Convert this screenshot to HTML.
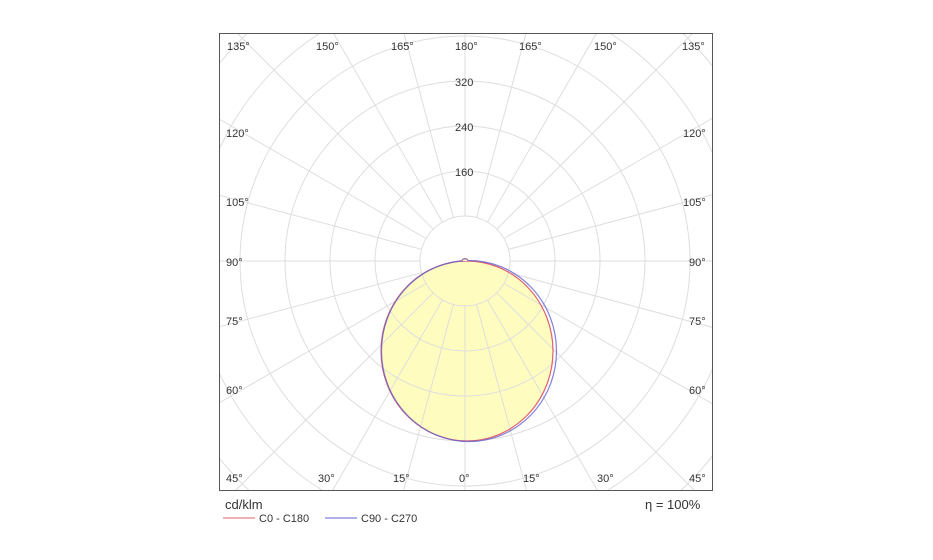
<!DOCTYPE html>
<html><head><style>html,body{margin:0;background:#fff;width:933px;height:560px;overflow:hidden}svg{display:block}</style></head><body>
<svg width="933" height="560" xmlns="http://www.w3.org/2000/svg" font-family="Liberation Sans, sans-serif">
<defs><clipPath id="c"><rect x="220" y="34" width="492" height="456"/></clipPath></defs>
<g clip-path="url(#c)">
<ellipse cx="467" cy="351" rx="86" ry="90" fill="#fefdbf"/>
<g stroke="#dedede" stroke-width="1" fill="none">
<circle cx="465" cy="261" r="45"/><circle cx="465" cy="261" r="90"/><circle cx="465" cy="261" r="135"/><circle cx="465" cy="261" r="180"/><circle cx="465" cy="261" r="225"/><circle cx="465" cy="261" r="270"/><circle cx="465" cy="261" r="315"/>
</g>
<g stroke="#dedede" stroke-width="1" id="spokes"></g>
<ellipse cx="467" cy="351" rx="86" ry="90" fill="none" stroke="#e06070" stroke-width="1.2"/>
<ellipse cx="469" cy="351" rx="87.5" ry="90.5" fill="none" stroke="#6060d0" stroke-width="1.2" opacity="0.8"/>
<path d="M462,261 C462,258 468,258 468,261" fill="#fefdbf" stroke="#9060a0" stroke-width="1.2"/>
</g>
<rect x="219.5" y="33.5" width="493" height="457" fill="none" stroke="#555" stroke-width="1"/>
<g font-size="11" fill="#333">
<text x="227" y="50">135°</text><text x="316" y="50">150°</text><text x="391" y="50">165°</text><text x="455" y="50">180°</text><text x="519" y="50">165°</text><text x="594" y="50">150°</text><text x="682" y="50">135°</text>
<text x="455" y="86">320</text><text x="455" y="131">240</text><text x="455" y="176">160</text>
<text x="226" y="137">120°</text><text x="683" y="137">120°</text>
<text x="226" y="206">105°</text><text x="683" y="206">105°</text>
<text x="226" y="266">90°</text><text x="689" y="266">90°</text>
<text x="226" y="325">75°</text><text x="689" y="325">75°</text>
<text x="226" y="394">60°</text><text x="689" y="394">60°</text>
<text x="226" y="482">45°</text><text x="318" y="482">30°</text><text x="393" y="482">15°</text><text x="459" y="482">0°</text><text x="523" y="482">15°</text><text x="597" y="482">30°</text><text x="689" y="482">45°</text>
</g>
<text x="225" y="509" font-size="13" fill="#333">cd/klm</text>
<text x="645" y="509" font-size="13" fill="#333">η = 100%</text>
<line x1="223" y1="518" x2="255" y2="518" stroke="#e06070"/>
<text x="259" y="522" font-size="11" fill="#333">C0 - C180</text>
<line x1="325" y1="518" x2="357" y2="518" stroke="#6060d0"/>
<text x="361" y="522" font-size="11" fill="#333">C90 - C270</text>
<script>
var g=document.getElementById('spokes');
for(var a=0;a<360;a+=15){var t=a*Math.PI/180;var c=Math.cos(t),s=Math.sin(t);
var l=document.createElementNS('http://www.w3.org/2000/svg','line');
l.setAttribute('x1',465+45*s);l.setAttribute('y1',261+45*c);l.setAttribute('x2',465+400*s);l.setAttribute('y2',261+400*c);g.appendChild(l);}
</script>
</svg>
</body></html>
